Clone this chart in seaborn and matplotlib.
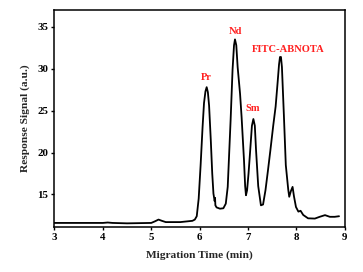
import matplotlib
matplotlib.use("Agg")
import matplotlib.pyplot as plt
import seaborn as sns
import pandas as pd

time_min = [3.0, 3.5, 4.0, 4.1, 4.2, 4.5, 5.0, 5.08, 5.15, 5.22, 5.3, 5.6, 5.85, 5.9, 5.94, 5.98,
            6.02, 6.06, 6.09, 6.12, 6.145, 6.17, 6.195, 6.23, 6.26, 6.285, 6.31, 6.318, 6.325, 6.35,
            6.42, 6.49, 6.54, 6.58, 6.61, 6.64, 6.68, 6.71, 6.73, 6.757, 6.785, 6.81, 6.835, 6.867,
            6.916, 6.94, 6.957, 6.98, 7.01, 7.04, 7.08, 7.11, 7.14, 7.165, 7.21, 7.266, 7.31, 7.36,
            7.41, 7.46, 7.52, 7.57, 7.61, 7.64, 7.66, 7.68, 7.70, 7.74, 7.78, 7.83, 7.851, 7.885,
            7.92, 7.948, 7.99, 8.04, 8.085, 8.14, 8.24, 8.38, 8.48, 8.59, 8.69, 8.79, 8.88]
signal = [11.6, 11.6, 11.6, 11.65, 11.6, 11.55, 11.6, 11.8, 12.0, 11.85, 11.7, 11.7, 11.85, 12.0, 12.4, 14.5,
          18.5, 23.0, 25.9, 27.3, 27.8, 27.2, 25.6, 21.5, 17.5, 15.1, 14.2, 14.6, 13.7, 13.45,
          13.3, 13.35, 13.9, 15.9, 19.9, 23.9, 29.9, 32.8, 33.5, 32.8, 30.2, 28.6, 27.0, 24.2,
          19.1, 16.0, 14.9, 15.5, 17.5, 19.9, 23.2, 24.0, 23.2, 20.3, 16.0, 13.7, 13.8, 15.5,
          17.8, 20.2, 23.2, 25.5, 28.3, 30.5, 31.4, 31.4, 30.2, 24.5, 18.5, 15.6, 14.72, 15.4,
          15.9, 14.8, 13.5, 12.95, 13.05, 12.55, 12.15, 12.12, 12.33, 12.53, 12.33, 12.33, 12.4]

peak_labels = ["Pr", "Nd", "Sm", "FITC-ABNOTA"]
peak_x = [6.13, 6.73, 7.09, 7.83]
peak_y = [28.9, 34.4, 25.3, 32.3]

x_ticks = [3, 4, 5, 6, 7, 8, 9]
y_ticks = [15, 20, 25, 30, 35]

df = pd.DataFrame({"t": time_min, "s": signal})

sns.set_theme(style="ticks")
plt.rcParams['font.family'] = ['Liberation Serif', 'DejaVu Serif']

fig, ax = plt.subplots(figsize=(3.63, 2.72), dpi=100)
fig.subplots_adjust(left=0.150, right=0.950, top=0.963, bottom=0.165)

sns.lineplot(data=df, x="t", y="s", ax=ax, color="black", linewidth=1.3, sort=False)

for lab, x, y in zip(peak_labels, peak_x, peak_y):
    ax.text(x, y, lab, color="#ff2020", fontsize=7.6, fontweight="bold", ha="center", va="center")

ax.set_xlim(3, 9)
ax.set_ylim(11.1, 37.0)
ax.set_xticks(x_ticks)
ax.set_yticks(y_ticks)
ax.set_xticklabels([str(v) for v in x_ticks], fontsize=7.8, fontweight="bold")
ax.set_yticklabels([str(v) for v in y_ticks], fontsize=7.8, fontweight="bold")
ax.tick_params(direction="out", length=2.5, width=1.0, pad=2, colors="black")
ax.set_xlabel("Migration Time (min)", fontsize=8.2, fontweight="bold", labelpad=6)
ax.set_ylabel("Response Signal (a.u.)", fontsize=8.2, fontweight="bold", labelpad=5)
for sp in ax.spines.values():
    sp.set_visible(True)
    sp.set_linewidth(1.1)
    sp.set_color("black")

fig.savefig("out.png", dpi=100)
